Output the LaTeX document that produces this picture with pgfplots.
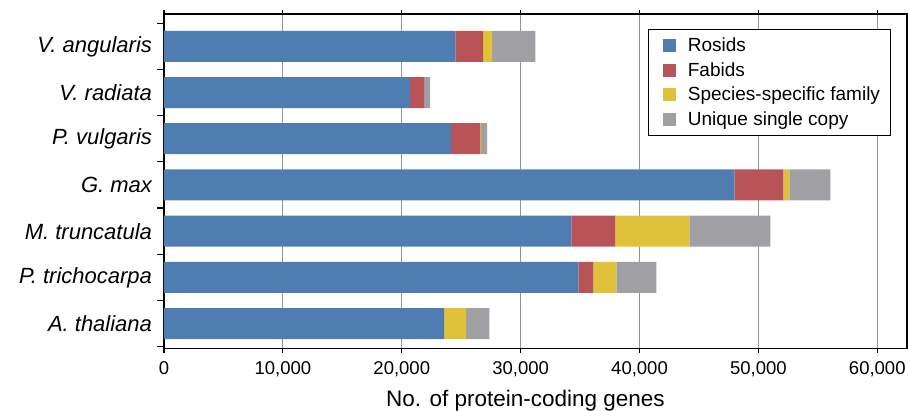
\documentclass[border=0pt]{standalone}
\usepackage{pgfplots}
\pgfplotsset{compat=1.18}
\usepackage{fontspec}
\setmainfont{Liberation Sans}

\definecolor{ros}{RGB}{79,125,177}
\definecolor{fab}{RGB}{184,84,87}
\definecolor{spec}{RGB}{223,194,58}
\definecolor{uniq}{RGB}{160,160,164}

\begin{document}
\begin{tikzpicture}
\begin{axis}[
  name=ax,
  xbar stacked,
  bar width=31pt,
  scale only axis,
  width=743pt, height=334.5pt,
  xmin=0, xmax=62500,
  ymin=-0.54, ymax=6.7,
  xtick={0,10000,...,60000},
  scaled x ticks=false,
  ytick={0,...,6},
  yticklabels={A. thaliana, P. trichocarpa, M. truncatula, G. max, P. vulgaris, V. radiata, V. angularis},
  minor ytick={-0.5,0.5,...,6.5},
  major y tick style={draw=none},
  tick align=outside,
  major tick length=4pt,
  minor tick length=7pt,
  tick style={black, line width=1.1pt},
  xmajorgrids,
  grid style={gray!85, line width=1.1pt},
  axis line style={black, line width=1.2pt},
  /pgf/number format/assume math mode=true,
  /pgf/number format/1000 sep={,},
  xticklabel style={font=\fontsize{18.5}{20}\selectfont, yshift=-6pt},
  yticklabel style={font=\fontsize{22}{24}\selectfont\itshape, xshift=-4.5pt},
  xlabel={No. of protein-coding genes},
  xlabel style={font=\fontsize{22.5}{25}\selectfont, xshift=-10pt, yshift=-6pt},
  legend cell align=left,
  legend image code/.code={\fill[#1,draw=none] (0pt,-6.5pt) rectangle (13pt,6.5pt); \path (-6pt,0pt) (22.5pt,0pt);},
  legend style={at={(0.9785,0.955)}, anchor=north east, draw=black, line width=1pt,
    font=\fontsize{19}{22}\selectfont, inner xsep=8.5pt, inner ysep=6.5pt, row sep=5.3pt},
]
% Rosids
\addplot[fill=ros, draw=none] coordinates {(23570,0) (34850,1) (34260,2) (47980,3) (24160,4) (20710,5) (24500,6)};
% Fabids
\addplot[fill=fab, draw=none] coordinates {(0,0) (1260,1) (3700,2) (4120,3) (2440,4) (1180,5) (2350,6)};
% Species-specific family
\addplot[fill=spec, draw=none] coordinates {(1850,0) (1940,1) (6230,2) (510,3) (80,4) (0,5) (760,6)};
% Unique single copy
\addplot[fill=uniq, draw=none] coordinates {(1940,0) (3360,1) (6820,2) (3450,3) (510,4) (505,5) (3620,6)};
\legend{Rosids, Fabids, Species-specific family, Unique single copy}
\end{axis}
\pgfresetboundingbox
\path[use as bounding box] ([xshift=-164pt,yshift=-61.5pt]ax.south west) rectangle ([xshift=1pt,yshift=14pt]ax.north east);
\end{tikzpicture}
\end{document}
